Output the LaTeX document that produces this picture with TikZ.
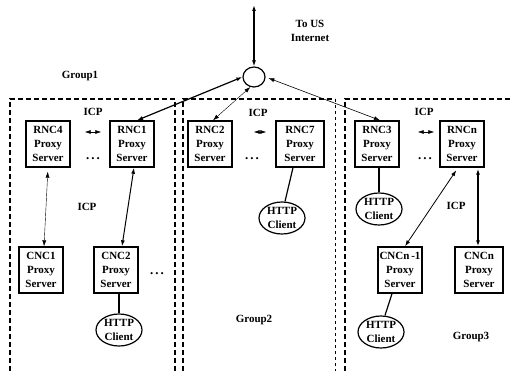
\documentclass[tikz,border=0pt]{standalone}
\usepackage{fontspec}
\setmainfont{Liberation Serif}
\usetikzlibrary{shapes.geometric, arrows.meta}
\begin{document}
\begin{tikzpicture}[>={Latex[length=6pt,width=4pt]}, x=1pt, y=-1pt,
  font=\fontsize{11}{14}\selectfont\bfseries,
  proxy/.style={draw, line width=1.4pt, minimum width=44pt, minimum height=46pt, align=center, inner sep=1pt},
  client/.style={draw, ellipse, line width=1.2pt, minimum width=46pt, minimum height=32pt, align=center, inner sep=0pt},
  grp/.style={line width=2.6pt, dash pattern=on 5pt off 3pt},
  dotsep/.style={anchor=base, font=\fontsize{13}{14}\selectfont\bfseries}]
\useasboundingbox (0,0) rectangle (511,371);
% Group boxes (open at the bottom)
\draw[grp] (10,371) -- (10,99) -- (175,99) -- (175,371);
\draw[grp] (183,371) -- (183,99) -- (335,99);
\draw[dashed, thin] (335,99) -- (335,371);
\draw[grp] (345,371) -- (345,99) -- (511,99);
% Hub and uplink
\node[draw, ellipse, line width=1.2pt, minimum width=22pt, minimum height=20pt, inner sep=0pt] (hub) at (254,77) {};
\coordinate (inet) at (254,5);
\node[align=center] (tous) at (310,31) {To US\\Internet};
% RNC proxies
\node[proxy] (rnc4) at (48,144) {RNC4\\Proxy\\Server};
\node[proxy] (rnc1) at (132,144) {RNC1\\Proxy\\Server};
\node[proxy] (rnc2) at (210,144) {RNC2\\Proxy\\Server};
\node[proxy, minimum width=48pt] (rnc7) at (300,144) {RNC7\\Proxy\\Server};
\node[proxy] (rnc3) at (377,144) {RNC3\\Proxy\\Server};
\node[proxy] (rncn) at (462,144) {RNCn\\Proxy\\Server};
% CNC proxies
\node[proxy] (cnc1) at (41,270) {CNC1\\Proxy\\Server};
\node[proxy] (cnc2) at (116,270) {CNC2\\Proxy\\Server};
\node[proxy] (cncm) at (400,270) {CNCn\,-1\\Proxy\\Server};
\node[proxy, minimum width=48pt] (cncn) at (479,270) {CNCn\\Proxy\\Server};
% HTTP clients
\node[client] (hc1) at (119,330) {HTTP\\Client};
\node[client] (hc2) at (282,218) {HTTP\\Client};
\node[client] (hc3) at (379,209) {HTTP\\Client};
\node[client] (hc4) at (381,332) {HTTP\\Client};
% Links to the hub
\draw[<->, line width=1.8pt] (hub) -- (inet);
\draw[<->, line width=1.2pt] (hub.west) -- ([xshift=5pt]rnc1.north);
\draw[<->, thin] (hub.250) -- ([xshift=3pt]rnc2.north);
\draw[<->, semithick, shorten <=3pt] (hub.east) -- ([xshift=3pt]rnc3.north);
% ICP between siblings
\draw[<->, semithick, shorten <=14pt, shorten >=8pt] ([yshift=12pt]rnc4.east) -- ([yshift=12pt]rnc1.west);
\draw[<->, semithick, shorten <=21pt, shorten >=9pt] ([yshift=12pt]rnc2.east) -- ([yshift=12pt]rnc7.west);
\draw[<->, semithick, shorten <=18pt, shorten >=5pt] ([yshift=12pt]rnc3.east) -- ([yshift=12pt]rncn.west);
% ICP parent/child
\draw[<->, thin, shorten <=4pt] (rnc4.south) -- ([xshift=3pt]cnc1.north);
\draw[<->, line width=1pt] ([xshift=2pt]rnc1.south) -- ([xshift=6pt]cnc2.north);
\draw[<->, line width=0.8pt, shorten <=3pt] ([xshift=-4pt]rncn.south) -- ([xshift=5pt]cncm.north);
\draw[<->, line width=1.3pt, shorten <=1pt] ([xshift=16pt]rncn.south) -- ([xshift=-1pt]cncn.north);
% Clients
\draw[line width=1.4pt] (hc1.north) -- (hc1.north |- cnc2.south);
\draw[line width=1.2pt] ([xshift=-7pt]rnc7.south) -- ([xshift=3pt]hc2.north);
\draw[line width=2.5pt] (hc3.north |- rnc3.south) -- (hc3.north);
\draw[line width=1.2pt] ([xshift=-8pt]cncm.south) -- ([xshift=4pt]hc4.north);
% Labels
\node (g1) at (80,76) {Group1};
\node (g2) at (254,320) {Group2};
\node (g3) at (471,337) {Group3};
\node (icp1) at (93,112) {ICP};
\node (icp2) at (258,113) {ICP};
\node (icp3) at (424,112) {ICP};
\node (icp4) at (87,207) {ICP};
\node (icp5) at (456,206) {ICP};
\node[dotsep] (dots1) at (93,160) {.\hspace{2pt}.\hspace{2pt}.};
\node[dotsep] (dots2) at (252,160) {.\hspace{2pt}.\hspace{2pt}.};
\node[dotsep] (dots3) at (425,160) {.\hspace{2pt}.\hspace{2pt}.};
\node[dotsep] (dots4) at (157,275) {.\hspace{2pt}.\hspace{2pt}.};
\end{tikzpicture}
\end{document}
